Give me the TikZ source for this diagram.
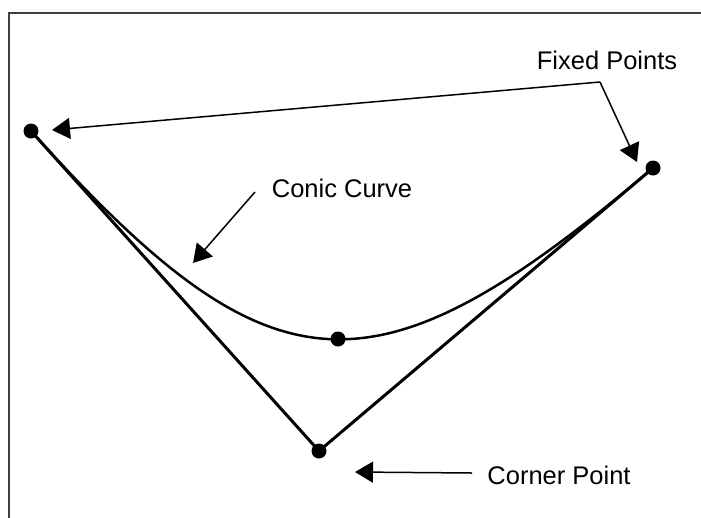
\documentclass[tikz,border=0pt]{standalone}
\usepackage{fontspec}
\setmainfont{Liberation Sans}
\usepackage{tikz}
\usetikzlibrary{calc,arrows.meta}
\definecolor{FrameGray}{HTML}{404040}
\definecolor{InkBlack}{HTML}{000000}

\begin{document}
\begin{tikzpicture}[x=1pt, y=-1pt, font=\fontsize{25.5}{30}\selectfont,
    dot/.style={circle, fill=InkBlack, inner sep=0pt, minimum size=15pt},
    callout/.style={InkBlack, line width=1.5pt, -{Triangle[length=18pt,width=21pt]}}]
    \useasboundingbox (0,0) rectangle (701,517);
    \draw[FrameGray, line width=2pt] (9,530) -- (9,13) -- (720,13);
    \foreach \name/\x/\y in {fixL/31/131, fixR/653/168, corner/319/451, mid/338/339} {
      \node[dot] (\name) at (\x,\y) {};
    }
    \draw[InkBlack, line width=3pt, line join=round]
      (fixL.center) -- (corner.center) -- (fixR.center);
    \draw[InkBlack, line width=2.5pt]
      (fixL.center) .. controls ($(fixL.center)!0.838!(corner.center)$)
      and ($(fixR.center)!0.838!(corner.center)$) .. (fixR.center);
    \node[anchor=base] (fixtxt) at (607,69) {Fixed Points};
    \node[anchor=base] (conictxt) at (342,197) {Conic Curve};
    \node[anchor=base] (cornertxt) at (559,484) {Corner Point};
    \coordinate (fixfrom) at (600,82);
    \coordinate (conicfrom) at (255,192);
    \coordinate (conicto) at (193,263);
    \coordinate (cornerfrom) at (472,473);
    \draw[callout] (fixfrom) -- ($(fixL)+(21,-1)$);
    \draw[callout] (fixfrom) -- ($(fixR)+(-16,-6)$);
    \draw[callout] (conicfrom) -- (conicto);
    \draw[callout] (cornerfrom) -- ($(corner)+(36,21)$);
  \end{tikzpicture}
\end{document}
